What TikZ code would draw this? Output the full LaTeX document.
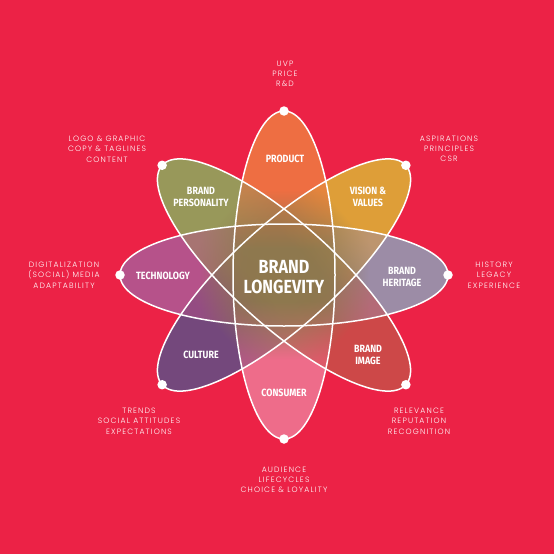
\documentclass[tikz,border=0pt]{standalone}
\usepackage{fontspec}
\setmainfont{Fira Sans}
\newfontfamily\labfont{Fira Sans}[FakeStretch=0.85]
\newfontfamily\outfont{Poppins Light}[LetterSpace=15]
\definecolor{bg}{RGB}{236,34,70}
\definecolor{cProd}{RGB}{238,110,66}
\definecolor{cVis}{RGB}{222,158,56}
\definecolor{cHer}{RGB}{156,140,166}
\definecolor{cImg}{RGB}{205,72,72}
\definecolor{cCon}{RGB}{238,108,138}
\definecolor{cCul}{RGB}{116,72,124}
\definecolor{cTec}{RGB}{182,82,138}
\definecolor{cPer}{RGB}{152,152,90}
\definecolor{cMid}{RGB}{142,120,78}
\pgfdeclarehorizontalshading{shV}{100bp}{color(0bp)=(cCon); color(37bp)=(cCon); color(46bp)=(cMid); color(54bp)=(cMid); color(63bp)=(cProd); color(100bp)=(cProd)}
\pgfdeclarehorizontalshading{shH}{100bp}{color(0bp)=(cTec); color(37bp)=(cTec); color(46bp)=(cMid); color(54bp)=(cMid); color(63bp)=(cHer); color(100bp)=(cHer)}
\pgfdeclarehorizontalshading{shA}{100bp}{color(0bp)=(cCul); color(37bp)=(cCul); color(46bp)=(cMid); color(54bp)=(cMid); color(63bp)=(cVis); color(100bp)=(cVis)}
\pgfdeclarehorizontalshading{shB}{100bp}{color(0bp)=(cImg); color(37bp)=(cImg); color(46bp)=(cMid); color(54bp)=(cMid); color(63bp)=(cPer); color(100bp)=(cPer)}
\tikzset{
  outl/.style={draw=white, line width=1.5pt},
  dot/.style={circle, fill=white, inner sep=0pt, minimum size=9.5pt},
  lab/.style={text=white, align=center, inner sep=0pt, font=\labfont\bfseries\fontsize{10.5}{11.4}\selectfont},
  biglab/.style={text=white, align=center, inner sep=0pt, font=\labfont\bfseries\fontsize{19}{19.5}\selectfont},
  outer/.style={text=white, align=center, inner sep=0pt, font=\outfont\fontsize{7.7}{10.3}\selectfont},
}
\begin{document}
\begin{tikzpicture}[x=1pt,y=1pt]
\fill[bg] (0,0) rectangle (554,-554);
\useasboundingbox (0,0) rectangle (554,-554);
% pass 1: opaque gradient fills
\begin{scope}[transform canvas={shift={(284pt,-275pt)},rotate=90}]
  \shade[shading=shV] (0,0) ellipse (164pt and 51pt);
\end{scope}
\begin{scope}[transform canvas={shift={(284pt,-275pt)},rotate=42}]
  \shade[shading=shA] (0,0) ellipse (164pt and 51pt);
\end{scope}
\begin{scope}[transform canvas={shift={(284pt,-275pt)},rotate=0}]
  \shade[shading=shH] (0,0) ellipse (164pt and 51pt);
\end{scope}
\begin{scope}[transform canvas={shift={(284pt,-275pt)},rotate=138}]
  \shade[shading=shB] (0,0) ellipse (164pt and 51pt);
\end{scope}
% pass 2: half-transparent fills to blend the overlaps
\begin{scope}[transform canvas={shift={(284pt,-275pt)},rotate=138}]
  \shade[shading=shB, opacity=0.5] (0,0) ellipse (164pt and 51pt);
\end{scope}
\begin{scope}[transform canvas={shift={(284pt,-275pt)},rotate=0}]
  \shade[shading=shH, opacity=0.5] (0,0) ellipse (164pt and 51pt);
\end{scope}
\begin{scope}[transform canvas={shift={(284pt,-275pt)},rotate=42}]
  \shade[shading=shA, opacity=0.5] (0,0) ellipse (164pt and 51pt);
\end{scope}
\begin{scope}[transform canvas={shift={(284pt,-275pt)},rotate=90}]
  \shade[shading=shV, opacity=0.5] (0,0) ellipse (164pt and 51pt);
\end{scope}
% outlines and dots
\begin{scope}[shift={(284,-275)}]
  \draw[outl, rotate=90] (0,0) ellipse (164pt and 51pt);
  \draw[outl, rotate=42] (0,0) ellipse (164pt and 51pt);
  \draw[outl, rotate=0] (0,0) ellipse (164pt and 51pt);
  \draw[outl, rotate=138] (0,0) ellipse (164pt and 51pt);
  \node[dot] (dProd) at (90:164pt) {};
  \node[dot] (dCon) at (270:164pt) {};
  \node[dot] (dVis) at (42:164pt) {};
  \node[dot] (dCul) at (222:164pt) {};
  \node[dot] (dHer) at (0:164pt) {};
  \node[dot] (dTec) at (180:164pt) {};
  \node[dot] (dPer) at (138:164pt) {};
  \node[dot] (dImg) at (318:164pt) {};
\end{scope}
% inner labels
\node[biglab] (center) at (284,-277) {BRAND\\LONGEVITY};
\node[lab] (lProd) at (285,-159) {PRODUCT};
\node[lab] (lPer) at (201,-197) {BRAND\\PERSONALITY};
\node[lab] (lVis) at (368,-197) {VISION \&\\VALUES};
\node[lab] (lTec) at (163,-276) {TECHNOLOGY};
\node[lab] (lHer) at (402,-277) {BRAND\\HERITAGE};
\node[lab] (lCul) at (201,-355) {CULTURE};
\node[lab] (lImg) at (368,-355) {BRAND\\IMAGE};
\node[lab] (lCon) at (284,-393) {CONSUMER};
% outer labels
\node[outer] (oProd) at (285,-74) {UVP\\PRICE\\R\&D};
\node[outer] (oPer) at (107,-149) {LOGO \& GRAPHIC\\COPY \& TAGLINES\\CONTENT};
\node[outer] (oVis) at (449,-149) {ASPIRATIONS\\PRINCIPLES\\CSR};
\node[outer] (oTec) at (64,-275) {DIGITALIZATION\\(SOCIAL) MEDIA\\ADAPTABILITY};
\node[outer] (oHer) at (494,-275) {HISTORY\\LEGACY\\EXPERIENCE};
\node[outer] (oCul) at (139,-421) {TRENDS\\SOCIAL ATTITUDES\\EXPECTATIONS};
\node[outer] (oImg) at (419,-421) {RELEVANCE\\REPUTATION\\RECOGNITION};
\node[outer] (oCon) at (284,-480) {AUDIENCE\\LIFECYCLES\\CHOICE \& LOYALITY};
\end{tikzpicture}
\end{document}
